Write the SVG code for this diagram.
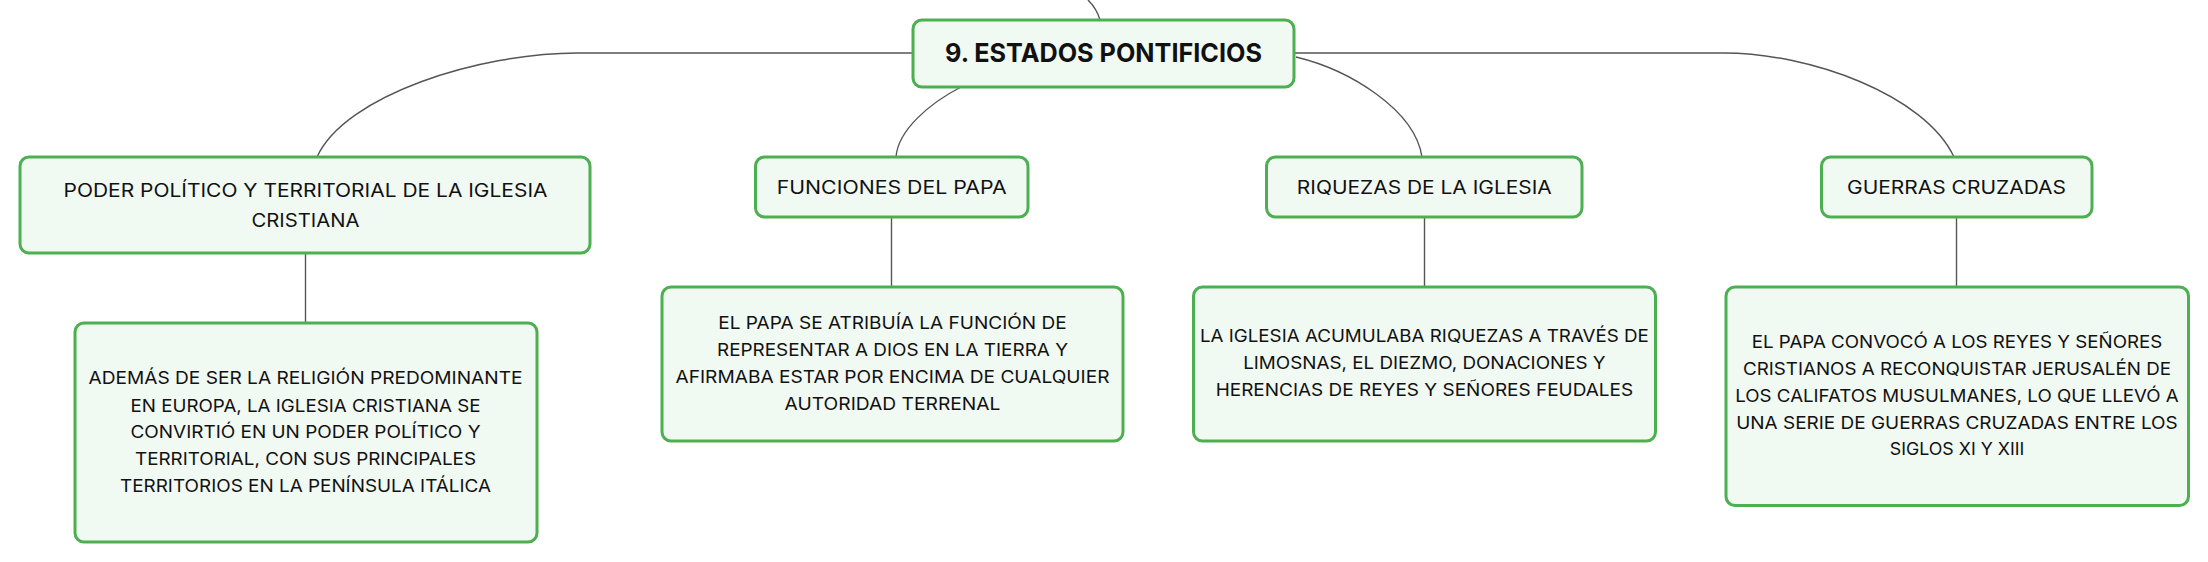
<svg xmlns="http://www.w3.org/2000/svg" width="2208" height="562" viewBox="0 0 2208 562">
<style>
.box{fill:#f1f9f3;stroke:#4caf50;stroke-width:3}
.conn{fill:none;stroke:#555;stroke-width:1.4}
.t{font-family:Inter,"Open Sans","Liberation Sans",sans-serif;fill:#111;text-anchor:middle}
.root{font-size:26px;font-weight:700}
.l1{font-size:18.5px}
.l2{font-size:17px}
</style>
<rect width="2208" height="562" fill="#fff"/>
<g id="connectors">
<path class="conn" d="M1088,0 Q1097,9 1100,20"/>
<path class="conn" d="M913,53 H577 C480,53 345,95 317,157"/>
<path class="conn" d="M961,87 C930,103 898,130 896,157"/>
<path class="conn" d="M1296,57 C1350,70 1415,110 1422,157"/>
<path class="conn" d="M1294,53 H1724 C1810,53 1925,95 1954,157"/>
<path class="conn" d="M305.5,253 V323"/>
<path class="conn" d="M891.5,217 V287"/>
<path class="conn" d="M1424.5,217 V287"/>
<path class="conn" d="M1956.5,217 V287"/>
</g>
<g id="root">
<rect class="box" x="913" y="20" width="381" height="67" rx="9"/>
<text class="t root" x="1103.5" y="62" textLength="317" lengthAdjust="spacingAndGlyphs">9. ESTADOS PONTIFICIOS</text>
</g>
<g id="poder">
<rect class="box" x="20" y="157" width="570" height="96" rx="9"/>
<text class="t l1" x="305.5" y="196.5" textLength="484" lengthAdjust="spacingAndGlyphs">PODER POLÍTICO Y TERRITORIAL DE LA IGLESIA</text>
<text class="t l1" x="305.5" y="226.5" textLength="108" lengthAdjust="spacingAndGlyphs">CRISTIANA</text>
</g>
<g id="funciones">
<rect class="box" x="755.5" y="157" width="272.5" height="60" rx="9"/>
<text class="t l1" x="891.7" y="194" textLength="230" lengthAdjust="spacingAndGlyphs">FUNCIONES DEL PAPA</text>
</g>
<g id="riquezas">
<rect class="box" x="1266.5" y="157" width="315.5" height="60" rx="9"/>
<text class="t l1" x="1424.3" y="194" textLength="255" lengthAdjust="spacingAndGlyphs">RIQUEZAS DE LA IGLESIA</text>
</g>
<g id="guerras">
<rect class="box" x="1821.5" y="157" width="270.5" height="60" rx="9"/>
<text class="t l1" x="1956.5" y="194" textLength="219" lengthAdjust="spacingAndGlyphs">GUERRAS CRUZADAS</text>
</g>
<g id="poder-detalle">
<rect class="box" x="75" y="323" width="462" height="219" rx="9"/>
<text class="t l2" x="305.5" y="384.3" textLength="434" lengthAdjust="spacingAndGlyphs">ADEMÁS DE SER LA RELIGIÓN PREDOMINANTE</text>
<text class="t l2" x="305.5" y="411.7" textLength="350" lengthAdjust="spacingAndGlyphs">EN EUROPA, LA IGLESIA CRISTIANA SE</text>
<text class="t l2" x="305.5" y="438.3" textLength="350" lengthAdjust="spacingAndGlyphs">CONVIRTIÓ EN UN PODER POLÍTICO Y</text>
<text class="t l2" x="305.5" y="465" textLength="341" lengthAdjust="spacingAndGlyphs">TERRITORIAL, CON SUS PRINCIPALES</text>
<text class="t l2" x="305.5" y="492" textLength="371" lengthAdjust="spacingAndGlyphs">TERRITORIOS EN LA PENÍNSULA ITÁLICA</text>
</g>
<g id="funciones-detalle">
<rect class="box" x="662" y="287" width="461" height="154" rx="9"/>
<text class="t l2" x="892.5" y="328.7" textLength="348.5" lengthAdjust="spacingAndGlyphs">EL PAPA SE ATRIBUÍA LA FUNCIÓN DE</text>
<text class="t l2" x="892.5" y="356" textLength="351" lengthAdjust="spacingAndGlyphs">REPRESENTAR A DIOS EN LA TIERRA Y</text>
<text class="t l2" x="892.5" y="383.3" textLength="434" lengthAdjust="spacingAndGlyphs">AFIRMABA ESTAR POR ENCIMA DE CUALQUIER</text>
<text class="t l2" x="892.5" y="410" textLength="216" lengthAdjust="spacingAndGlyphs">AUTORIDAD TERRENAL</text>
</g>
<g id="riquezas-detalle">
<rect class="box" x="1193.5" y="287" width="462" height="154" rx="9"/>
<text class="t l2" x="1424.4" y="342" textLength="449" lengthAdjust="spacingAndGlyphs">LA IGLESIA ACUMULABA RIQUEZAS A TRAVÉS DE</text>
<text class="t l2" x="1424.4" y="369.3" textLength="362.5" lengthAdjust="spacingAndGlyphs">LIMOSNAS, EL DIEZMO, DONACIONES Y</text>
<text class="t l2" x="1424.4" y="396" textLength="417.5" lengthAdjust="spacingAndGlyphs">HERENCIAS DE REYES Y SEÑORES FEUDALES</text>
</g>
<g id="guerras-detalle">
<rect class="box" x="1726" y="287" width="462.5" height="218.5" rx="9"/>
<text class="t l2" x="1957" y="348" textLength="410.5" lengthAdjust="spacingAndGlyphs">EL PAPA CONVOCÓ A LOS REYES Y SEÑORES</text>
<text class="t l2" x="1957" y="375" textLength="428" lengthAdjust="spacingAndGlyphs">CRISTIANOS A RECONQUISTAR JERUSALÉN DE</text>
<text class="t l2" x="1957" y="402" textLength="443.5" lengthAdjust="spacingAndGlyphs">LOS CALIFATOS MUSULMANES, LO QUE LLEVÓ A</text>
<text class="t l2" x="1957" y="428.7" textLength="441.5" lengthAdjust="spacingAndGlyphs">UNA SERIE DE GUERRAS CRUZADAS ENTRE LOS</text>
<text class="t l2" x="1957" y="455.3" textLength="134.5" lengthAdjust="spacingAndGlyphs">SIGLOS XI Y XIII</text>
</g>
</svg>
